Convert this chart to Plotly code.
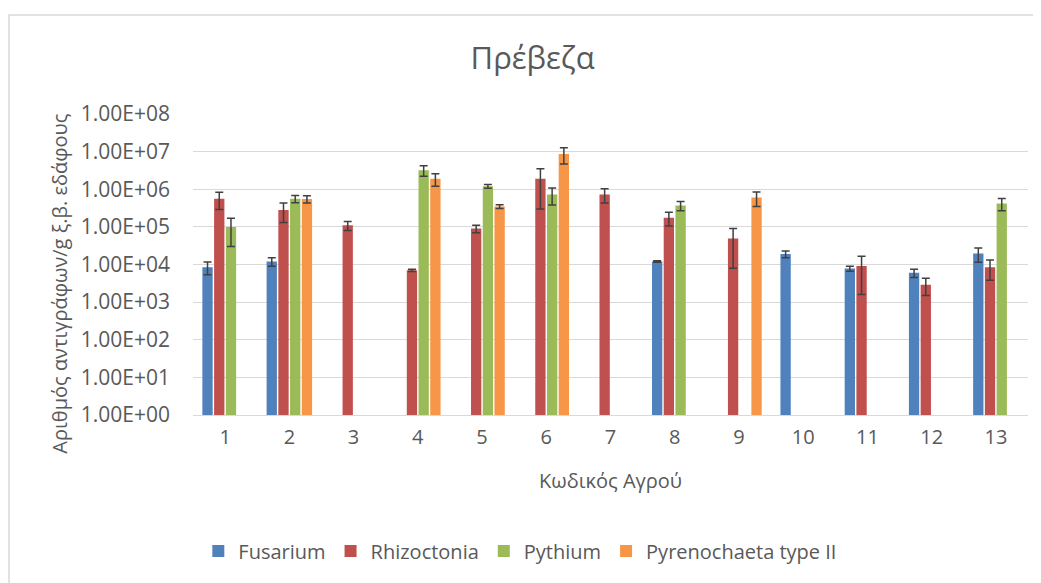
import plotly.graph_objects as go

fields = ["1", "2", "3", "4", "5", "6", "7", "8", "9", "10", "11", "12", "13"]

fusarium = [8.5e3, 1.2e4, None, None, None, None, None, 1.2e4, None, 1.9e4, 7.8e3, 6.0e3, 1.95e4]
fusarium_err = [3.2e3, 3e3, 0, 0, 0, 0, 0, 5e2, 0, 4e3, 1.2e3, 1.5e3, 8e3]

rhizoctonia = [5.6e5, 2.8e5, 1.1e5, 7.0e3, 9.0e4, 1.9e6, 7.3e5, 1.75e5, 4.9e4, None, 9.1e3, 2.9e3, 8.5e3]
rhizoctonia_err = [2.7e5, 1.5e5, 3e4, 5e2, 2e4, 1.6e6, 3e5, 7e4, 4.1e4, 0, 7.5e3, 1.4e3, 4.7e3]

pythium = [1.0e5, 5.6e5, None, 3.2e6, 1.2e6, 7.3e5, None, 3.7e5, None, None, None, None, 4.2e5]
pythium_err = [7e4, 1.2e5, 0, 1e6, 1.3e5, 3.5e5, 0, 1e5, 0, 0, 0, 0, 1.5e5]

pyrenochaeta = [None, 5.5e5, None, 1.9e6, 3.5e5, 8.7e6, None, None, 6.0e5, None, None, None, None]
pyrenochaeta_err = [0, 1.2e5, 0, 7e5, 4e4, 4e6, 0, 0, 2.5e5, 0, 0, 0, 0]

y_ticks = [1e0, 1e1, 1e2, 1e3, 1e4, 1e5, 1e6, 1e7, 1e8]
y_tick_labels = ["1.00E+00", "1.00E+01", "1.00E+02", "1.00E+03", "1.00E+04",
                 "1.00E+05", "1.00E+06", "1.00E+07", "1.00E+08"]

series = [
    ("Fusarium", fusarium, fusarium_err, "#4F81BD"),
    ("Rhizoctonia", rhizoctonia, rhizoctonia_err, "#C0504D"),
    ("Pythium", pythium, pythium_err, "#9BBB59"),
    ("Pyrenochaeta type II", pyrenochaeta, pyrenochaeta_err, "#F79646"),
]

fig = go.Figure()

for name, vals, errs, color in series:
    fig.add_trace(
        go.Bar(
            x=fields,
            y=vals,
            name=name,
            marker=dict(color=color, line=dict(width=0)),
            error_y=dict(type="data", array=errs, visible=True,
                         color="#404040", thickness=1.5, width=4),
        )
    )

txt = "#595959"

# page body has an 8px margin, so the margins below are shifted by that
fig.update_layout(
    width=1041,
    height=583,
    paper_bgcolor="white",
    plot_bgcolor="white",
    font=dict(family="Open Sans, sans-serif", color=txt, size=20),
    title=dict(text="Πρέβεζα", x=0.504, xanchor="center", y=0.914, yanchor="middle",
               font=dict(size=31, color=txt)),
    margin=dict(l=185, r=21, t=106, b=176),
    barmode="group",
    bargap=0.27,
    bargroupgap=0.12,
    showlegend=True,
    legend=dict(orientation="h", x=0.392, xanchor="center", y=-0.452, yanchor="middle",
                font=dict(size=20, color=txt), itemwidth=30),
    xaxis=dict(
        title=dict(text="Κωδικός Αγρού", font=dict(size=20, color=txt), standoff=24),
        showline=True, linecolor="#D9D9D9", linewidth=1,
        ticks="", tickfont=dict(size=20, color=txt),
        ticklabelstandoff=4,
        automargin=False,
    ),
    yaxis=dict(
        type="log",
        range=[0, 8],
        tickvals=y_ticks,
        ticktext=y_tick_labels,
        tickfont=dict(size=21, color=txt),
        ticklabelstandoff=22,
        showgrid=True, gridcolor="#D9D9D9", gridwidth=1,
        zeroline=False, showline=False,
        ticks="",
        automargin=False,
    ),
    annotations=[
        dict(text="Αριθμός αντιγράφων/g ξ.β. εδάφους", textangle=-90,
             xref="paper", yref="paper", x=-0.161, y=0.435,
             xanchor="center", yanchor="middle", showarrow=False,
             font=dict(size=20, color=txt)),
    ],
    shapes=[
        dict(type="rect", xref="paper", yref="paper",
             x0=-0.2204, x1=1.05, y0=-0.6, y1=1.329,
             line=dict(color="#D9D9D9", width=1.5)),
    ],
)

fig.write_html("out.html")
